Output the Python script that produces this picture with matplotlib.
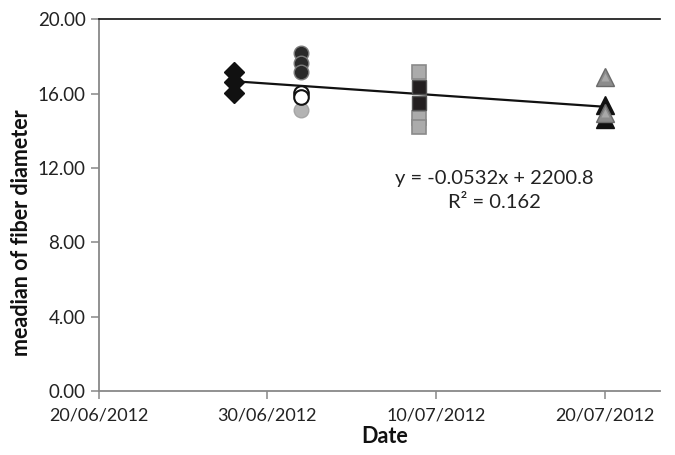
import matplotlib
matplotlib.use("Agg")
import matplotlib.pyplot as plt
import matplotlib.dates as mdates
import numpy as np
import datetime as dt

plt.rcParams['font.family'] = ['Lato', 'DejaVu Sans']

# Data
d_diamond = dt.date(2012, 6, 28)
d_circle = dt.date(2012, 7, 2)
d_square = dt.date(2012, 7, 9)
d_triangle = dt.date(2012, 7, 20)

diamond_vals = [17.18, 16.61, 16.02]
circle_dark_vals = [18.17, 17.63, 17.18]
circle_open_vals = [16.02, 15.84]
circle_light_vals = [15.13]
square_light_vals = [17.18, 14.70, 14.18]
square_dark_vals = [16.37, 15.47]
triangle_black_vals = [15.41, 14.65]
triangle_gray_vals = [16.90, 14.95]

y_ticks = [0, 4, 8, 12, 16, 20]
x_tick_dates = [dt.date(2012, 6, 20), dt.date(2012, 6, 30), dt.date(2012, 7, 10), dt.date(2012, 7, 20)]

fig = plt.figure(figsize=(6.75, 4.55), dpi=100)
ax = fig.add_axes([0.1462, 0.1407, 0.978 - 0.1462, 0.9576 - 0.1407])

def plot_series(date, vals, **kw):
    ax.plot([mdates.date2num(date)] * len(vals), vals, linestyle='none', **kw)

# Linear trendline fitted to all points
xs, ys = [], []
for d, v in [(d_diamond, diamond_vals), (d_circle, circle_dark_vals), (d_circle, circle_open_vals),
             (d_circle, circle_light_vals), (d_square, square_light_vals), (d_square, square_dark_vals),
             (d_triangle, triangle_black_vals), (d_triangle, triangle_gray_vals)]:
    xs += [mdates.date2num(d)] * len(v)
    ys += v
xs = np.array(xs); ys = np.array(ys)
k, b = np.polyfit(xs, ys, 1)
xl = np.array([xs.min(), xs.max()])
ax.plot(xl, k * xl + b, color='#111111', lw=1.6, zorder=1)

plot_series(d_diamond, diamond_vals, marker='D', markersize=10.5, color='#111111', mec='#111111', zorder=3)
plot_series(d_circle, circle_light_vals, marker='o', markersize=10.5, mfc='#b3b3b3', mec='#a5a5a5', mew=1, zorder=3)
plot_series(d_circle, circle_open_vals, marker='o', markersize=10.5, mfc='white', mec='#111111', mew=1.5, zorder=3)
plot_series(d_circle, circle_dark_vals, marker='o', markersize=10.5, mfc='#2a2a2a', mec='#7a7a7a', mew=1, zorder=3)
plot_series(d_square, square_light_vals, marker='s', markersize=10, mfc='#ababab', mec='#8a8a8a', mew=1.2, zorder=3)
plot_series(d_square, square_dark_vals, marker='s', markersize=10, mfc='#231f20', mec='#555555', mew=1, zorder=3)
plot_series(d_triangle, triangle_black_vals, marker='^', markersize=13, mfc='#111111', mec='#111111', zorder=3)
plot_series(d_triangle, triangle_gray_vals, marker='^', markersize=13, mfc='#8c8c8c', mec='#6a6a6a', mew=1, zorder=3)
plot_series(d_triangle, triangle_gray_vals, marker='^', markersize=6, mfc='#a8a8a8', mec='none', zorder=3)

ax.text(0.704, 0.573, 'y = -0.0532x + 2200.8', transform=ax.transAxes, ha='center', va='center', fontsize=14.5, color='#222222')
ax.text(0.704, 0.506, 'R² = 0.162', transform=ax.transAxes, ha='center', va='center', fontsize=14.5, color='#222222')

x0 = mdates.date2num(dt.date(2012, 6, 20))
ax.set_xlim(x0, x0 + 33.3)
ax.set_ylim(0, 20)
ax.set_yticks(y_ticks)
ax.set_yticklabels([f"{t:.2f}" for t in y_ticks])
ax.set_xticks([mdates.date2num(d) for d in x_tick_dates])
ax.set_xticklabels([d.strftime('%d/%m/%Y') for d in x_tick_dates])

for s in ['left', 'bottom']:
    ax.spines[s].set_color('#888888')
    ax.spines[s].set_linewidth(1.3)
ax.spines['right'].set_visible(False)
ax.spines['top'].set_color('#111111')
ax.spines['top'].set_linewidth(1.2)
ax.tick_params(axis='both', direction='out', length=6, color='#888888', width=1.1, labelsize=13.5, labelcolor='#222222')
ax.tick_params(axis='x', pad=6, labelsize=13)

ax.set_xlabel('Date', fontsize=15.5, fontweight='bold', color='#111111')
ax.xaxis.set_label_coords(0.51, -0.093)
ax.xaxis.label.set_va('top')
ax.set_ylabel('meadian of fiber diameter', fontsize=15.5, fontweight='bold', color='#111111')
ax.yaxis.label.set_va('center')
ax.yaxis.set_label_coords(-0.137, 0.426)

fig.savefig('out.png', dpi=100)
